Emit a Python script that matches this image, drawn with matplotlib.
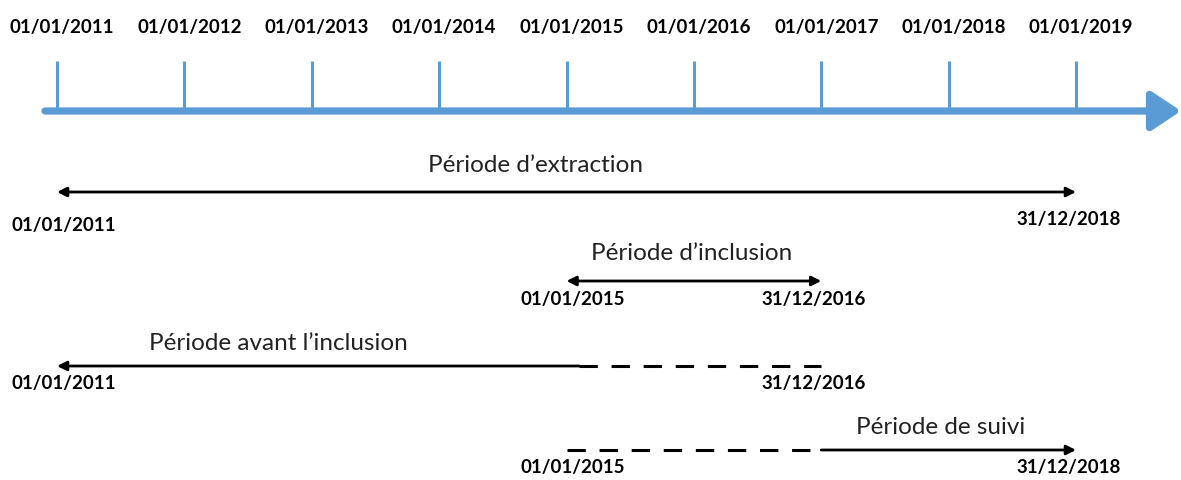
import matplotlib.pyplot as plt

# Données
tick_years = [2011, 2012, 2013, 2014, 2015, 2016, 2017, 2018, 2019]
tick_labels = ["01/01/2011", "01/01/2012", "01/01/2013", "01/01/2014", "01/01/2015",
               "01/01/2016", "01/01/2017", "01/01/2018", "01/01/2019"]

periodes = ["Période d\u2019extraction", "Période d\u2019inclusion",
            "Période avant l\u2019inclusion", "Période de suivi"]
debut = [2011, 2015, 2011, 2015]
fin = [2019, 2017, 2017, 2019]
debut_lbl = ["01/01/2011", "01/01/2015", "01/01/2011", "01/01/2015"]
fin_lbl = ["31/12/2018", "31/12/2016", "31/12/2016", "31/12/2018"]
# partie en pointillés (début, fin) pour les périodes 3 et 4
pointilles = [None, None, (2015.1, 2017), (2015, 2017)]

bleu = "#5B9BD5"
plt.rcParams['font.family'] = ['Lato', 'DejaVu Sans']

fig = plt.figure(figsize=(11.81, 4.8), dpi=100)
ax = fig.add_axes([0, 0, 1, 1])
# axe x en années : 2011 -> 57 px, 2019 -> 1076 px
px = (1076 - 57) / 8
ax.set_xlim(2011 - 57 / px, 2011 + (1181 - 57) / px)
ax.set_ylim(480, 0)
ax.axis('off')

# Axe du temps
x0 = 2011 - 12 / px
x1 = 2011 + (1181 - 57) / px
ax.annotate("", xy=(x1, 111), xytext=(x0, 111), annotation_clip=False,
            arrowprops=dict(arrowstyle="-|>,head_length=0.9,head_width=0.6",
                            color=bleu, lw=5.2, shrinkA=0, shrinkB=0, mutation_scale=20))
for yr, lab in zip(tick_years, tick_labels):
    ax.plot([yr, yr], [61, 109], color=bleu, lw=2.2, solid_capstyle='butt')
    ax.text(yr + 0.04, 27, lab, ha='center', va='center', fontsize=13.5, fontweight='bold')

# Lignes des périodes
rows = [192, 281, 366, 450]
titre_x = [2014.76, 2015.98, 2012.74, 2017.94]
titre_dy = [-27, -27, -23, -22]
styles = ["<|-|>", "<|-|>", "<|-", "-|>"]
for i, y in enumerate(rows):
    a, b = debut[i], fin[i]
    d = pointilles[i]
    arr = dict(color='black', lw=2, shrinkA=0, shrinkB=0, mutation_scale=14)
    if d is None:
        ax.annotate("", xy=(b, y), xytext=(a, y), arrowprops=dict(arrowstyle=styles[i], **arr))
    else:
        if styles[i] == "<|-":
            ax.annotate("", xy=(d[0], y), xytext=(a, y), arrowprops=dict(arrowstyle="<|-", **arr))
        else:
            ax.annotate("", xy=(b, y), xytext=(d[1], y), arrowprops=dict(arrowstyle="-|>", **arr))
        ax.plot([d[0], d[1]], [y, y], color='black', lw=2.2, ls=(0, (6, 4.5)), solid_capstyle='butt')
    ax.text(titre_x[i], y + titre_dy[i], periodes[i], ha='center', va='center', fontsize=17.5,
            color='#222222')
    ax.text(a + 0.05, y + 34 if i == 0 else y + 18, debut_lbl[i], ha='center', va='center',
            fontsize=13.5, fontweight='bold')
    ax.text(b - 0.06, y + 28 if i == 0 else y + 18, fin_lbl[i], ha='center', va='center',
            fontsize=13.5, fontweight='bold')

fig.savefig("out.png", dpi=100)
